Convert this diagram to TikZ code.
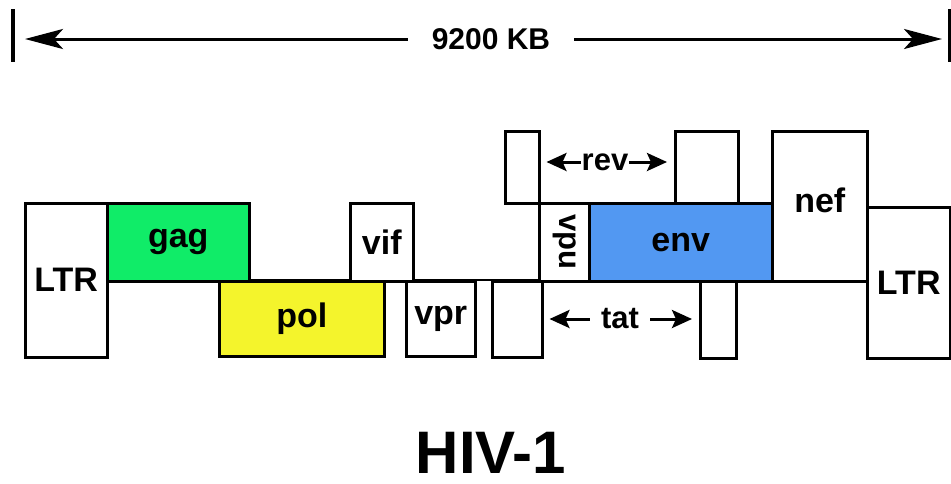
\documentclass[tikz,border=0pt]{standalone}
\usepackage{fontspec}
\setmainfont{Liberation Sans}
\usepackage{xcolor}
\usetikzlibrary{arrows.meta}

\definecolor{gaggreen}{RGB}{16,236,104}
\definecolor{polyellow}{RGB}{244,244,44}
\definecolor{envblue}{RGB}{82,152,242}

\begin{document}
\begin{tikzpicture}[x=1pt,y=-1pt]
\tikzset{gene/.style={draw,line width=2.5pt,fill=white,inner sep=0pt,anchor=north west,font=\fontsize{34}{40}\selectfont\bfseries}}
\tikzset{span/.style={line width=3pt,-{Stealth[length=20pt 0,width=18pt 0,inset=4pt 0]}}}
\tikzset{scalearrow/.style={line width=3pt,-{Stealth[length=38pt 0,width=20pt 0,inset=9pt 0]}}}

\useasboundingbox (0,0) rectangle (951,483);

\coordinate (barL) at (13,39);
\coordinate (barR) at (949,39);
\draw[line width=4pt] ([yshift=30pt]barL) -- ([yshift=-23pt]barL);
\draw[line width=3pt] ([yshift=30pt]barR) -- ([yshift=-23pt]barR);
\node[inner xsep=24pt,font=\fontsize{30}{36}\selectfont\bfseries] (size) at (491,39) {9200 KB};
\draw[scalearrow] (size.west) -- ([xshift=12pt]barL);
\draw[scalearrow] (size.east) -- ([xshift=-7pt]barR);

\coordinate (base) at (106,280);
\coordinate (baseend) at (866,280);
\draw[line width=2.5pt] (base) -- (baseend);

\node[gene,minimum width=82,minimum height=154] (ltrL) at (24,202) {LTR};
\node[gene,fill=gaggreen,minimum width=142,minimum height=78] (gag) at (106,202) {gag};
\node[gene,fill=polyellow,minimum width=165,minimum height=75] (pol) at (218,280) {pol};
\node[gene,minimum width=63,minimum height=78] (vif) at (349,202) {vif};
\node[gene,minimum width=69,minimum height=75] (vpr) at (405,280) {vpr};
\node[gene,minimum width=50,minimum height=76] (tatA) at (491,280) {};
\node[gene,minimum width=34,minimum height=72] (revA) at (504,130) {};
\node[gene,minimum width=50,minimum height=78] (vpu) at (538,202) {};
\node[rotate=-90,font=\fontsize{31}{36}\selectfont\bfseries] (vpulabel) at (vpu.center) {vpu};
\node[gene,fill=envblue,minimum width=183,minimum height=78] (env) at (588,202) {env};
\node[gene,minimum width=63,minimum height=72] (revB) at (674,130) {};
\node[gene,minimum width=95,minimum height=150,text depth=0pt] (nef) at (771,130) {\raisebox{13pt}{nef}};
\node[gene,minimum width=36,minimum height=77] (tatB) at (699,280) {};
\node[gene,minimum width=83,minimum height=151] (ltrR) at (866,206) {LTR};

\node[inner xsep=1pt,font=\fontsize{31}{36}\selectfont\bfseries] (rev) at (605,162) {rev};
\draw[span] (rev.west) -- ([xshift=6pt]revA.east |- rev.west);
\draw[span] (rev.east) -- ([xshift=-7pt]revB.west |- rev.east);

\node[inner xsep=11pt,font=\fontsize{31}{36}\selectfont\bfseries] (tat) at (620,319) {tat};
\draw[span] (tat.west) -- ([xshift=6pt]tatA.east |- tat.west);
\draw[span] (tat.east) -- ([xshift=-7pt]tatB.west |- tat.east);

\node[font=\fontsize{60}{70}\selectfont\bfseries,inner sep=0pt] (title) at (491,453) {HIV-1};

\end{tikzpicture}
\end{document}
